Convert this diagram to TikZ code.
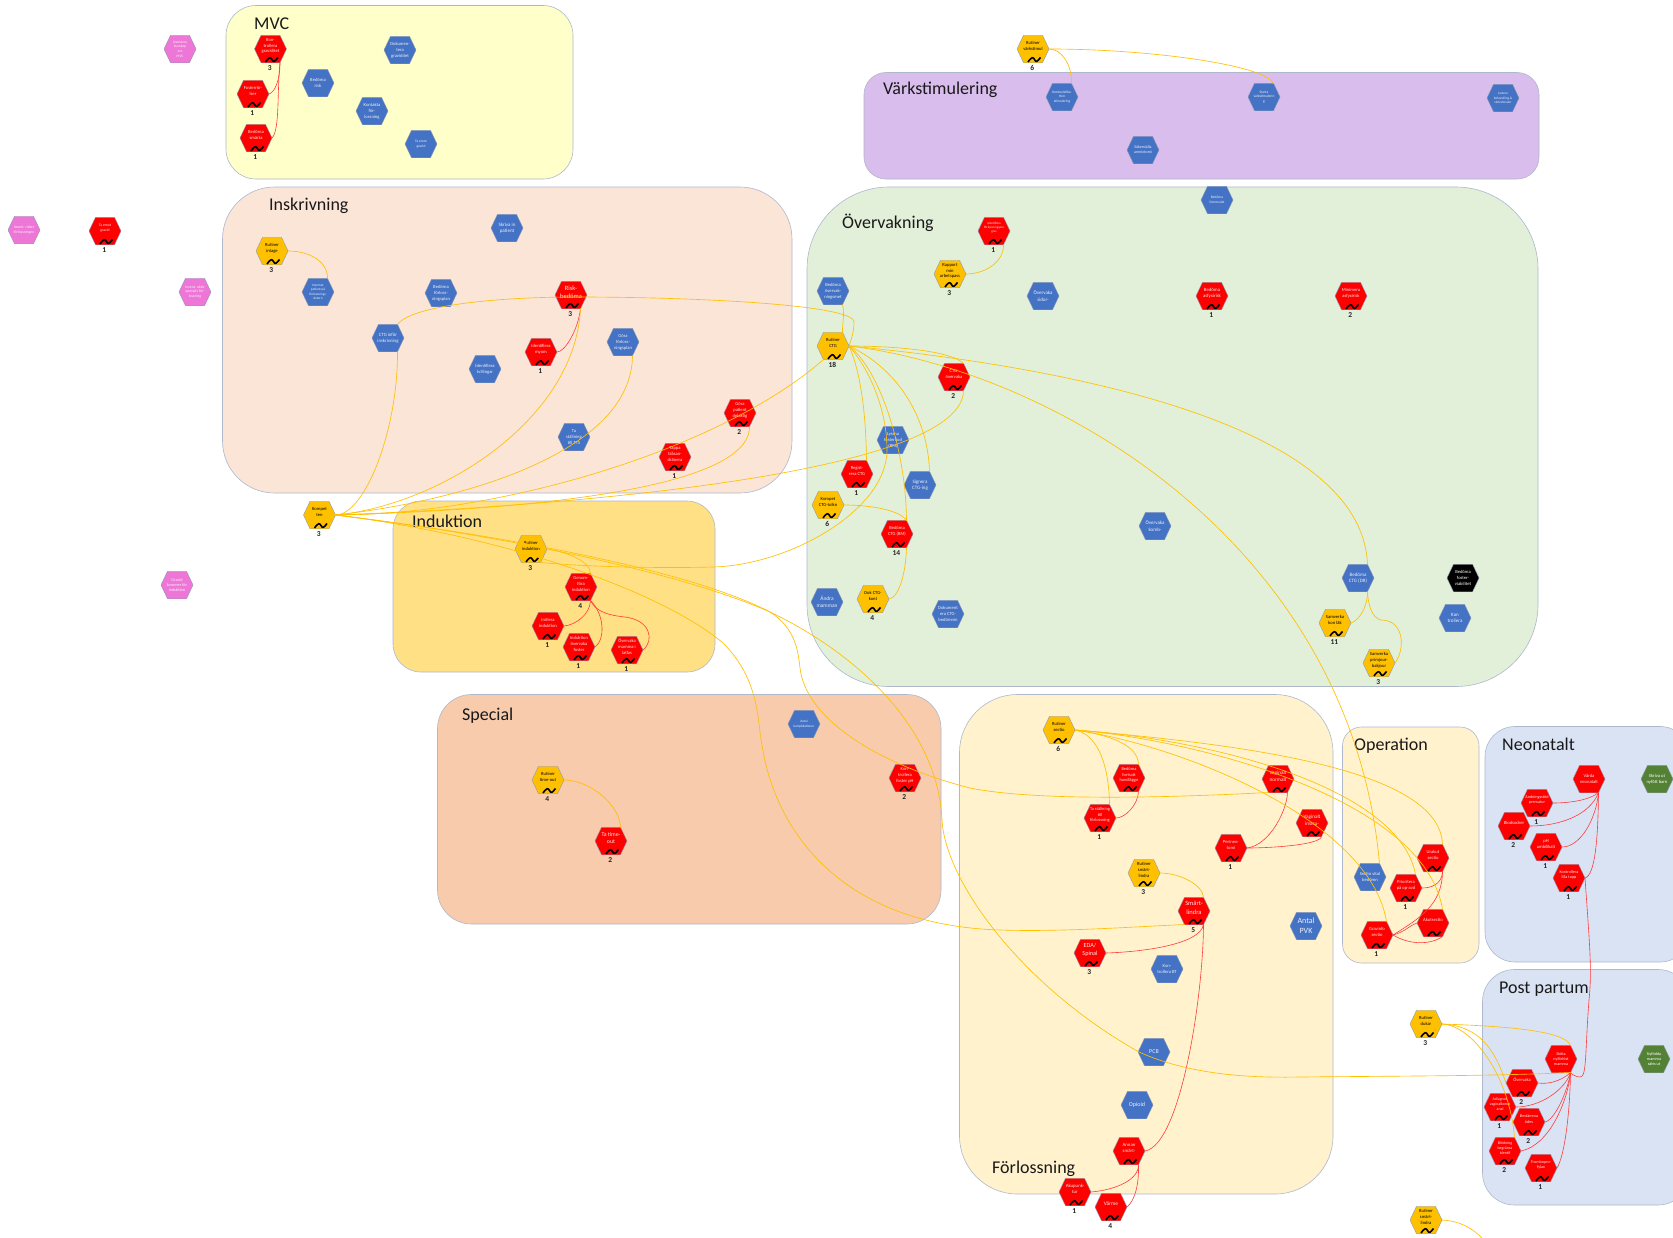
\documentclass[tikz,border=0pt]{standalone}
\usepackage{fontspec}
\setmainfont{Carlito}
\definecolor{cR}{HTML}{FF0000}\definecolor{cB}{HTML}{4472C4}\definecolor{cG}{HTML}{FFC000}
\definecolor{cP}{HTML}{EE76D6}\definecolor{cN}{HTML}{548235}
\definecolor{hedge}{HTML}{8F9BB3}\definecolor{fedge}{HTML}{AEB8CC}
\definecolor{lred}{HTML}{FF3B3B}
\makeatletter
\pgfdeclareshape{hexagonbox}{
 \inheritsavedanchors[from=rectangle]
 \inheritanchorborder[from=rectangle]
 \inheritanchor[from=rectangle]{center}
 \inheritanchor[from=rectangle]{north}
 \inheritanchor[from=rectangle]{south}
 \inheritanchor[from=rectangle]{east}
 \inheritanchor[from=rectangle]{west}
 \backgroundpath{
  \southwest \pgf@xa=\pgf@x \pgf@ya=\pgf@y
  \northeast \pgf@xb=\pgf@x \pgf@yb=\pgf@y
  \pgf@xc=.5\pgf@xa \advance\pgf@xc by .5\pgf@xb
  \pgf@yc=.5\pgf@ya \advance\pgf@yc by .5\pgf@yb
  \pgfpathmoveto{\pgfqpoint{\pgf@xa}{\pgf@yc}}
  \pgfpathlineto{\pgfpoint{\pgf@xa+6.5pt}{\pgf@yb}}
  \pgfpathlineto{\pgfpoint{\pgf@xb-6.5pt}{\pgf@yb}}
  \pgfpathlineto{\pgfqpoint{\pgf@xb}{\pgf@yc}}
  \pgfpathlineto{\pgfpoint{\pgf@xb-6.5pt}{\pgf@ya}}
  \pgfpathlineto{\pgfpoint{\pgf@xa+6.5pt}{\pgf@ya}}
  \pgfpathclose
 }
}
\makeatother
\tikzset{
 hexa/.style={shape=hexagonbox,minimum width=32pt,minimum height=27.5pt,inner sep=0pt,outer sep=0pt,draw=hedge,line width=.4pt},
 kr/.style={fill=cR},kR/.style={fill=cR},kg/.style={fill=cG},kb/.style={fill=cB},kp/.style={fill=cP},kn/.style={fill=cN},kk/.style={fill=black},
 tr/.style={text=white!90!red},tR/.style={text=white!90!red},tg/.style={text=black},tb/.style={text=white!90!cB},tp/.style={text=white!90!cP},tn/.style={text=white},tk/.style={text=white},
 htext/.style={align=center,inner sep=0pt},
 hwave/.style={draw=black,line width=1.6pt},
 hnum/.style={font=\bfseries\fontsize{7.5}{9}\selectfont,inner sep=0pt,text=black!85},
 frame/.style={draw=fedge,line width=.6pt},
 ftitle/.style={anchor=west,inner sep=0pt,font=\fontsize{18}{22}\selectfont,text=black!90},
 gl/.style={draw=cG,line width=.65pt},
 rl/.style={draw=lred,line width=.6pt},
}
\newcommand{\hx}[7][4.6]{%
 \node[hexa,k#5] (#2) at (#3,#4) {};
 \coordinate (#2-br) at (#3+9.5,#4+13.5);
 \coordinate (#2-tr) at (#3+9.5,#4-13.5);
 \coordinate (#2-bl) at (#3-9.5,#4+13.5);
 \def\hxdy{0}\if r#5\def\hxdy{-3}\fi\if g#5\def\hxdy{-3}\fi
 \node[htext,t#5,font={\fontsize{#1}{\fpeval{1.28*#1}}\selectfont}] (#2-t) at (#3,#4+\hxdy) {#6};
 \if r#5\draw[hwave] (#3-5,#4+13) .. controls (#3-1,#4+7.5) and (#3,#4+8) .. (#3+1.5,#4+10.5) .. controls (#3+3,#4+13.5) and (#3+4,#4+13) .. (#3+7.5,#4+8.5);\fi
 \if g#5\draw[hwave] (#3-5,#4+13) .. controls (#3-1,#4+7.5) and (#3,#4+8) .. (#3+1.5,#4+10.5) .. controls (#3+3,#4+13.5) and (#3+4,#4+13) .. (#3+7.5,#4+8.5);\fi
 \if\relax\detokenize{#7}\relax\else\node[hnum] (#2-n) at (#3-.7,#4+19) {#7};\fi
}
\begin{document}
\begin{tikzpicture}[x=1pt,y=-1pt]
\useasboundingbox (0,0) rectangle (1673,1237);
\path[fill=white] (0,0) rectangle (1673,1237);
% frames
\begin{scope}
\clip (0,0) rectangle (1673,1237);
\draw[frame,rounded corners=30pt,fill={rgb,255:red,255;green,255;blue,201}] (226,5.5) rectangle (573,179);
\draw[frame,rounded corners=52pt,fill={rgb,255:red,251;green,229;blue,214}] (222.5,187) rectangle (792,493);
\draw[frame,rounded corners=22pt,fill={rgb,255:red,217;green,189;blue,236}] (864,72.5) rectangle (1539,179);
\draw[frame,rounded corners=82pt,fill={rgb,255:red,226;green,239;blue,217}] (807,187) rectangle (1538,686.5);
\draw[frame,rounded corners=28pt,fill={rgb,255:red,255;green,224;blue,133}] (393,501) rectangle (715,672);
\draw[frame,rounded corners=34pt,fill={rgb,255:red,247;green,203;blue,172}] (437.5,694.5) rectangle (941,924);
\draw[frame,rounded corners=58pt,fill={rgb,255:red,255;green,242;blue,204}] (959.5,694.5) rectangle (1333,1194);
\draw[frame,rounded corners=19pt,fill={rgb,255:red,255;green,242;blue,204}] (1342.5,727) rectangle (1479,963);
\draw[frame,rounded corners=30pt,fill={rgb,255:red,218;green,227;blue,243}] (1485,726.5) rectangle (1690,962);
\draw[frame,rounded corners=32pt,fill={rgb,255:red,218;green,227;blue,243}] (1482.5,969.5) rectangle (1690,1205);
\end{scope}
\node[ftitle] (tMVC) at (254,23.5) {MVC};
\node[ftitle] (tIns) at (269,206) {Inskrivning};
\node[ftitle] (tVark) at (883,90) {Värkstimulering};
\node[ftitle] (tOver) at (842,223) {Övervakning};
\node[ftitle] (tInd) at (412,521) {Induktion};
\node[ftitle] (tSpec) at (462,716) {Special};
\node[ftitle] (tForl) at (992,1169) {Förlossning};
\node[ftitle] (tOp) at (1354,746) {Operation};
\node[ftitle] (tNeo) at (1502,744) {Neonatalt};
\node[ftitle] (tPP) at (1499,989) {Post partum};
% left column
\hx[3.6]{pa}{180}{49}{p}{Inventera\\kunskap\\om\\MVC}{}
\hx[3.8]{pb}{24}{230}{p}{Invent. risker\\förlossningen}{}
\hx[3.8]{pc}{195}{292}{p}{Invent. aktiv\\operativ för-\\lossning}{}
\hx[4.2]{pd}{177}{585}{p}{Gravid\\kommer för\\induktion}{}
\hx[3.8]{emot}{105}{231}{r}{Ta emot\\gravid}{1}
% MVC
\hx{kon}{270.5}{49}{r}{Kon-\\trollera\\graviditet}{3}
\hx{fost}{253}{94}{r}{Fosterrör-\\lser}{1}
\hx{smarta}{256}{138}{r}{Bedöma\\smärta}{1}
\hx{risk}{318}{83}{b}{Bedöma\\risk}{}
\hx{dokg}{400}{50}{b}{Dokumen-\\tera\\graviditet}{}
\hx{kontf}{372}{111}{b}{Kontakta\\för-\\lossning}{}
\hx[3.6]{emotb}{421}{144}{b}{Ta emot\\gravid}{}
% Inskrivning
\hx[5]{skriva}{507}{228}{b}{Skriva in\\patient}{}
\hx{rintag}{272}{251}{g}{Rutiner\\intage}{3}
\hx[3.4]{namn}{318}{292}{b}{Namnet\\patient på\\förlossnings-\\datorn}{}
\hx{bedfp}{441}{293}{b}{Bedöma\\förloss-\\ningsplan}{}
\hx[6.5]{riskb}{571}{295}{r}{Risk-\\bedöma}{3}
\hx[4.8]{ctgi}{388}{338}{b}{CTG inför\\inskrivning}{}
\hx{myom}{541}{352}{r}{Identifiera\\myom}{1}
\hx{tvill}{485}{369}{b}{Identifiera\\tvillingar}{}
\hx{gorafp}{623}{342}{b}{Göra\\förloss-\\ningsplan}{}
\hx{tast}{574}{437}{b}{Ta\\ställning\\till TTS}{}
\hx{gorap}{740}{413}{r}{Göra\\patient\\delaktig}{2}
\hx{tappa}{675}{457}{r}{Tappa\\blåsan-\\dränera}{1}
\hx{komp}{319.5}{515}{g}{Kompet\\ten}{3}
% Vark
\hx{rvark}{1033}{49}{g}{Rutiner\\värkstimul}{6}
\hx[3.6]{kontra}{1062}{97}{b}{Kontraindika-\\tion\\stimulering}{}
\hx[3.6]{starta}{1264}{97}{b}{Starta\\värkstimulerin\\g}{}
\hx[3.4]{just}{1503}{98}{b}{Justera\\behandling \&\\värkstimuler}{}
\hx[4]{amnio}{1143}{150}{b}{Säkerställa\\amniotomi}{}
\hx[3.6]{hinna}{1217}{200}{b}{Bedöma\\hinnsvulst}{}
% Overvakning
\hx[3.2]{idprog}{994}{231}{r}{Identifiera\\förlossningspro\\gres}{1}
\hx{rapp}{950}{274}{g}{Rapport\\min\\arbetspass}{3}
\hx[5]{ovsid}{1043}{296}{b}{Övervaka\\sidor-}{}
\hx[4.8]{bedas}{1212}{296}{r}{Bedöma\\asfyxirisk}{1}
\hx[4.6]{minas}{1351}{296}{r}{Minimera\\asfyxirisk}{2}
\hx{bedov}{833}{291}{b}{Bedöma\\övervak-\\ningsmet}{}
\hx{rctg}{833}{346}{g}{Rutiner\\CTG}{18}
\hx{ctgov}{954}{377}{r}{CTG-\\övervaka}{2}
\hx{lyss}{893}{440}{b}{Lyssna\\fosterljud\\(BM)}{}
\hx{reg}{857}{474}{r}{Regist-\\rera CTG}{1}
\hx[5]{sign}{920}{485}{b}{Signera\\CTG-ing}{}
\hx{kctg}{828}{505}{g}{Kompet\\CTG-tolkn}{6}
\hx{bedbm}{897}{534}{r}{Bedöma\\CTG (BM)}{14}
\hx[5]{ovkomb}{1155}{526}{b}{Övervaka\\komb-}{}
\hx[5.4]{andra}{827}{602}{b}{Ändra\\mamman}{}
\hx{dokc}{873}{599}{g}{Dok CTG-\\kont}{4}
\hx{dokb}{948}{614}{b}{Dokument\\era CTG-\\bedömnin}{}
\hx[5]{beddr}{1358}{578}{b}{Bedöma\\CTG (DR)}{}
\hx{fvia}{1463}{578}{k}{Bedöma\\foster-\\viabilitet}{}
\hx[5]{kant}{1455}{618}{b}{Kan\\trollera}{}
\hx{samk}{1335}{623}{g}{Samverka\\kon läk}{11}
\hx{samp}{1379}{663}{g}{Samverka\\primjour-\\bakjour}{3}
% Induktion / Special
\hx{rind}{531}{549}{g}{Rutiner\\induktion}{3}
\hx{genf}{581}{587}{r}{Genom-\\föra\\induktion}{4}
\hx{init}{548}{626}{r}{Initiera\\induktion}{1}
\hx{indf}{579}{647}{r}{Induktion\\övervaka\\foster}{1}
\hx{ovml}{627}{650}{r}{Övervaka\\mamma i\\latfas}{1}
\hx{rtim}{548}{780}{g}{Rutiner\\time-out}{4}
\hx[5.8]{tatim}{611}{841}{r}{Ta time-\\out}{2}
\hx[3.4]{antko}{804}{724}{b}{Antal\\komplikationer}{}
\hx{kfos}{905}{778}{r}{Kon-\\trollera\\foster pH}{2}
% Forlossning
\hx{rsec}{1059}{730}{g}{Rutiner\\sectio}{6}
\hx[4.4]{fort}{1129}{778}{r}{Bedöma\\fortsatt\\handläggn}{}
\hx[4.4]{tstall}{1100}{818}{r}{Ta ställning\\till\\förlossning}{1}
\hx[5.2]{vn}{1278}{779}{r}{Vaginalt\\normalt}{}
\hx[5.2]{vi}{1312}{823}{r}{Vaginalt\\instru-}{}
\hx{peri}{1231}{848}{r}{Perineo-\\tomi}{1}
\hx{rsm}{1144}{873}{g}{Rutiner\\smärt-\\lindra}{3}
\hx[6.5]{sl}{1194}{911}{r}{Smärt-\\lindra}{5}
\hx[6.2]{eda}{1090}{953}{r}{EDA/\\Spinal}{3}
\hx{kbt}{1167}{969}{b}{Kon-\\trollera BT}{}
\hx[8]{pvk}{1306}{926}{b}{Antal\\PVK}{}
\hx[6]{pcb}{1154}{1052}{b}{PCB}{}
\hx[6]{opi}{1137}{1105}{b}{Opioid}{}
\hx[4.8]{ann}{1129}{1151}{r}{Annan\\smärt-}{}
\hx[4.8]{aku}{1075}{1192}{r}{Akupunk-\\tur}{1}
\hx[5.4]{varm}{1111}{1207}{r}{Värme}{4}
% Operation
\hx{sv}{1370}{877}{b}{Sectio vital\\bedömn}{}
\hx{prio}{1406}{888}{r}{Prioritera\\på op-avd}{1}
\hx{ura}{1433}{858}{r}{Urakut\\sectio}{}
\hx{aku2}{1433}{923}{r}{Akutsectio}{}
\hx{gra}{1377}{935}{r}{Gravinfo\\sectio}{1}
% Neonatalt
\hx{va}{1589}{779}{R}{Vårda\\neonatalt}{}
\hx{skn}{1657}{779}{n}{Skriva ut\\nyfött barn}{}
\hx[4.2]{and}{1537}{803}{r}{Andningsstöd\\prematur}{1}
\hx{blsoc}{1514}{826}{r}{Blodsocker}{2}
\hx{ph}{1546}{847}{r}{pH\\umbilikalt}{1}
\hx[4.2]{ktg}{1569}{878}{r}{Kontrollera\\lilla tupp}{1}
% Post partum
\hx{du}{1426}{1024}{g}{Rutiner\\dukar}{3}
\hx[4.2]{sk}{1561}{1059}{R}{Sköta\\nyförlöst\\mamma}{}
\hx[4.2]{nyf}{1654}{1059}{n}{Nyfödda\\mamma\\sätts ut}{}
\hx{ov}{1522}{1083}{r}{Övervaka}{2}
\hx[4]{adi}{1500}{1107}{r}{Adiagnos\\vaginalkomp\\anal}{1}
\hx[4.2]{bes}{1529}{1122}{r}{Bestämma\\ödes}{2}
\hx[4]{blo}{1505}{1151}{r}{Blödning\\begränsa\\identif}{2}
\hx[4.2]{tro}{1541}{1168}{r}{Trombopro-\\fylax}{1}
\hx{rsm2}{1426}{1220}{g}{Rutiner\\smärt-\\lindra}{}
\coordinate (free) at (1482,1238);
% red connectors
\begin{scope}[rl]
\draw (fost.east) .. controls (275,92) and (280,80) .. (kon-br);
\draw (smarta.east) .. controls (280,130) and (277,90) .. (kon-br);
\draw (myom.east) .. controls (565,352) and (578,330) .. (riskb-br);
\draw (init.east) .. controls (575,625) and (590,615) .. (genf-br);
\draw (indf.east) .. controls (605,640) and (605,615) .. (genf-br);
\draw (ovml.east) .. controls (655,640) and (650,620) .. (625,617) .. controls (605,615) and (595,610) .. (genf-br);
\draw (tstall.east) .. controls (1125,818) and (1138,805) .. (fort-br);
\draw (peri.east) .. controls (1270,845) and (1287,810) .. (vn-br);
\draw (peri.east) .. controls (1270,848) and (1320,845) .. (vi-br);
\draw (eda.east) .. controls (1140,952) and (1200,945) .. (sl-br);
\draw (ann.east) .. controls (1180,1145) and (1203,1000) .. (sl-br);
\draw (aku.east) .. controls (1115,1190) and (1139,1180) .. (ann-br);
\draw (varm.east) .. controls (1135,1200) and (1139,1185) .. (ann-br);
\draw (prio.east) .. controls (1430,888) and (1442,885) .. (ura-br);
\draw (gra.east) .. controls (1420,918) and (1442,905) .. (ura-br);
\draw (gra.east) .. controls (1410,945) and (1430,945) .. (aku2-br);
\draw (gra.east) .. controls (1405,932) and (1410,925) .. (aku2.west);
\draw (and.east) .. controls (1570,803) and (1590,800) .. (va-br);
\draw (blsoc.east) .. controls (1560,826) and (1590,815) .. (va-br);
\draw (ph.east) .. controls (1580,847) and (1596,820) .. (va-br);
\draw (ktg.east) .. controls (1595,875) and (1598,840) .. (va-br);
\draw (ktg.east) .. controls (1590,950) and (1592,970) .. (1589,1000) .. controls (1585,1050) and (1587,1078) .. (1580,1077) .. controls (1577,1077) and (1572,1075) .. (sk-br);
\draw (ov.east) .. controls (1552,1085) and (1565,1078) .. (sk-br);
\draw (adi.east) .. controls (1540,1107) and (1565,1090) .. (sk-br);
\draw (bes.east) .. controls (1555,1120) and (1568,1090) .. (sk-br);
\draw (blo.east) .. controls (1550,1145) and (1568,1100) .. (sk-br);
\draw (tro.east) .. controls (1565,1155) and (1570,1110) .. (sk-br);
\end{scope}
% gold connectors
\begin{scope}[gl]
\draw (rintag.east) .. controls (310,251) and (328,262) .. (namn-tr);
\draw (komp.east) .. controls (365,515) and (398,430) .. (ctgi-br);
\draw (ctgi-tr) .. controls (412,305) and (500,297) .. (575,297) .. controls (700,297) and (854,305) .. (854,322) .. controls (854,328) and (853,335) .. (rctg.east);
\draw (komp.east) .. controls (440,505) and (575,420) .. (riskb-br);
\draw (komp.east) .. controls (470,500) and (632,450) .. (gorafp-br);
\draw (komp.east) .. controls (500,515) and (720,450) .. (rctg-bl);
\draw (komp.east) .. controls (520,510) and (750,490) .. (gorap-br);
\draw (komp.east) .. controls (600,505) and (963,470) .. (ctgov-br);
\draw (komp.east) .. controls (500,535) and (690,570) .. (770,612) .. controls (795,628) and (798,650) .. (800,668) .. controls (806,720) and (880,765) .. (970,788) .. controls (1040,802) and (1180,797) .. (vn-bl);
\draw (komp.east) .. controls (500,535) and (680,572) .. (770,612) .. controls (860,655) and (938,730) .. (942,820) .. controls (945,880) and (1020,985) .. (1139,1052) .. controls (1190,1075) and (1250,1078) .. (1300,1077) .. controls (1400,1076) and (1500,1076) .. (sk-br);
\draw (komp.east) .. controls (500,535) and (660,590) .. (723,643) .. controls (760,680) and (757,720) .. (762,745) .. controls (775,830) and (840,925) .. (1000,930) .. controls (1060,932) and (1130,927) .. (sl-bl);
\draw (rind.east) .. controls (565,552) and (590,560) .. (genf-tr);
\draw (rind-br) .. controls (600,568) and (680,568) .. (713,567) .. controls (790,565) and (887,510) .. (887,450) .. controls (887,410) and (870,370) .. (rctg.east);
\draw (rctg.east) .. controls (862,375) and (866,420) .. (reg-tr);
\draw (rctg.east) .. controls (880,370) and (906,450) .. (bedbm-tr);
\draw (rctg.east) .. controls (900,370) and (928,420) .. (sign-tr);
\draw (rctg.east) .. controls (890,346) and (950,350) .. (ctgov-tr);
\draw (rctg.east) .. controls (1050,365) and (1362,420) .. (beddr-tr);
\draw (rctg.east) .. controls (1050,370) and (1350,540) .. (sv-tr);
\draw (bedov-br) .. controls (845,315) and (842,325) .. (rctg-tr);
\draw (kctg.east) .. controls (870,505) and (900,510) .. (bedbm-tr);
\draw (dokc.east) .. controls (900,597) and (906,570) .. (bedbm-br);
\draw (rapp.east) .. controls (985,274) and (1004,262) .. (idprog-br);
\draw (rvark.east) .. controls (1062,49) and (1072,65) .. (kontra-tr);
\draw (rvark.east) .. controls (1150,49) and (1265,65) .. (starta-tr);
\draw (samk.east) .. controls (1360,620) and (1368,605) .. (beddr-br);
\draw (samp.east) .. controls (1405,650) and (1405,620) .. (1381,620) .. controls (1372,618) and (1368,605) .. (beddr-br);
\draw (rtim.east) .. controls (590,780) and (620,805) .. (tatim-tr);
\draw (rsm.east) .. controls (1180,873) and (1203,885) .. (sl-tr);
\draw (rsec.east) .. controls (1110,735) and (1138,745) .. (fort-tr);
\draw (rsec.east) .. controls (1100,735) and (1109,770) .. (tstall-tr);
\draw (rsec.east) .. controls (1250,745) and (1440,770) .. (ura-tr);
\draw (rsec.east) .. controls (1220,740) and (1400,790) .. (prio-tr);
\draw (rsec.east) .. controls (1200,740) and (1425,800) .. (aku2-tr);
\draw (rsec.east) .. controls (1180,745) and (1370,820) .. (gra-tr);
\draw (du.east) .. controls (1500,1026) and (1565,1030) .. (sk-tr);
\draw (du.east) .. controls (1480,1026) and (1495,1050) .. (ov.west);
\draw (du.east) .. controls (1475,1026) and (1510,1080) .. (blo-tr);
\draw (rsm2.east) .. controls (1460,1221) and (1472,1228) .. (free);
\end{scope}
\end{tikzpicture}
\end{document}
